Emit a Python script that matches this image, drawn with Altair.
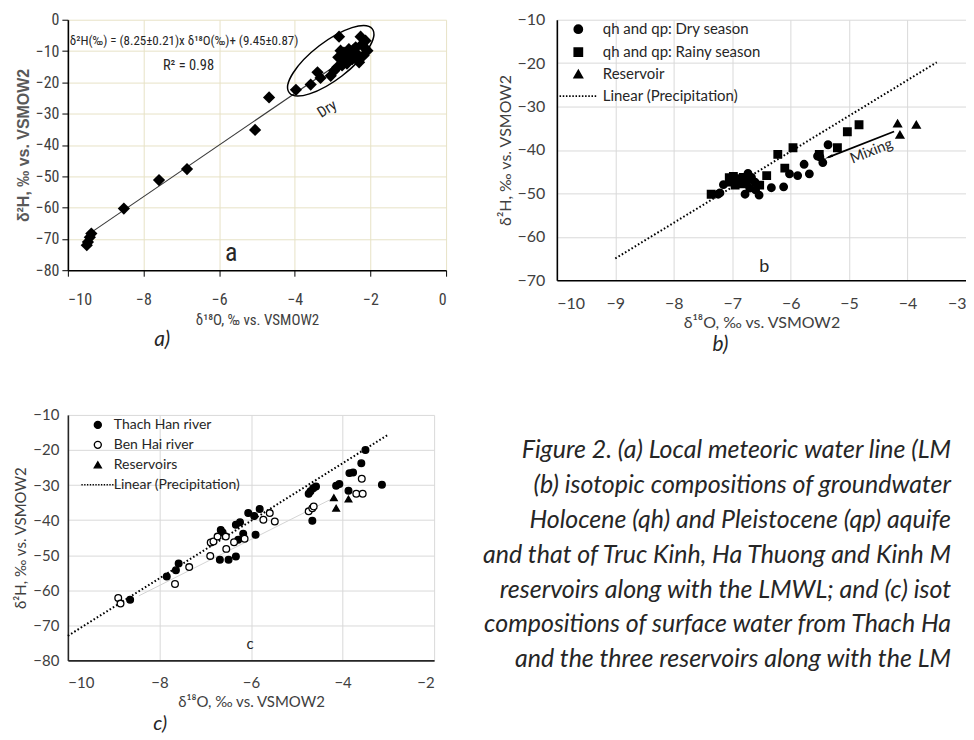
import math
import altair as alt
import pandas as pd

NARROW = "Roboto Condensed, Liberation Sans Narrow, Roboto, sans-serif"
CAL = "Lato, Carlito, Calibri, sans-serif"
TXT = "#404040"

# ---------------- panel a data ----------------
a_x = [-9.50, -9.47, -9.42, -9.38, -8.52, -7.59, -6.85, -5.05, -4.68,
       -3.97, -3.58, -3.40, -3.32, -3.05, -2.96, -2.88, -2.83, -2.79, -2.75,
       -2.70, -2.65, -2.60, -2.57, -2.52, -2.48, -2.43, -2.39, -2.35, -2.30,
       -2.26, -2.22, -2.18, -2.13, -2.08, -2.15, -2.70, -2.85, -2.62, -2.45]
a_y = [-72.0, -71.0, -69.5, -68.3, -60.3, -51.2, -47.7, -35.2, -24.8,
       -22.4, -20.7, -16.8, -18.6, -17.9, -16.3, -15.2, -5.4, -9.9, -14.6,
       -13.1, -11.0, -12.3, -9.4, -10.8, -12.6, -11.5, -8.8, -11.0, -13.6,
       -5.4, -7.8, -11.4, -6.7, -9.9, -9.0, -10.5, -12.0, -14.0, -9.6]
a_fit_x = [-9.43, -2.20]
a_fit_y = [-68.3, -8.7]
a_ellipse_x = [-3.05]
a_ellipse_y = [-13.1]

# ---------------- panel b data ----------------
b_series = ["qh and qp: Dry season", "qh and qp: Rainy season", "Reservoir",
            "Linear (Precipitation)"]
b_dry_x = [-7.24, -7.21, -7.15, -6.73, -6.67, -6.75, -6.61, -6.70, -6.78, -6.54,
           -6.60, -6.33, -6.12, -6.02, -5.88, -5.77, -5.68, -5.54, -5.45, -5.36, -5.50]
b_dry_y = [-50.2, -49.9, -48.0, -45.4, -46.3, -47.4, -47.4, -48.8, -50.2, -50.4,
           -49.2, -48.7, -48.5, -45.5, -45.9, -43.3, -45.5, -41.4, -42.9, -38.8, -41.6]
b_rainy_x = [-7.36, -7.05, -6.98, -6.90, -6.81, -6.95, -6.84, -7.02, -6.53, -6.41,
             -6.22, -6.10, -5.96, -5.51, -5.20, -5.03, -4.83]
b_rainy_y = [-50.2, -46.4, -46.1, -46.6, -46.3, -48.1, -47.8, -47.4, -48.1, -45.9,
             -41.0, -44.2, -39.5, -41.0, -39.5, -35.8, -34.2]
b_res_x = [-4.17, -4.13, -3.85]
b_res_y = [-33.9, -36.5, -34.2]
b_lmwl_x = [-9.0, -3.5]
b_lmwl_y = [-65.0, -19.8]
b_mix_x = [-4.23, -5.36]
b_mix_y = [-35.75, -41.7]

# ---------------- panel c data ----------------
c_series = ["Thach Han river", "Ben Hai river", "Reservoirs", "Linear (Precipitation)"]
c_th_x = [-3.50, -3.59, -3.85, -3.77, -3.14, -3.87, -4.14, -4.07, -4.74, -4.70,
          -4.64, -4.58, -4.66, -5.81, -6.06, -5.93, -5.90, -6.33, -6.24, -6.17,
          -6.28, -6.66, -6.62, -6.68, -6.49, -6.33, -7.58, -7.64, -7.84, -8.64]
c_th_y = [-20.0, -23.8, -26.6, -26.4, -29.9, -31.6, -30.2, -29.7, -32.5, -31.8,
          -30.9, -30.4, -40.2, -36.8, -38.0, -38.8, -44.2, -41.3, -40.6, -43.9,
          -45.6, -42.8, -43.5, -51.3, -51.3, -50.4, -52.4, -54.3, -56.1, -62.7]
c_bh_x = [-3.58, -3.70, -3.56, -4.74, -4.66, -4.63, -5.59, -5.73, -5.48, -6.88,
          -6.82, -6.73, -6.55, -6.54, -6.37, -6.14, -6.89, -7.35, -7.66, -8.90, -8.85]
c_bh_y = [-28.2, -32.5, -32.5, -37.5, -36.6, -36.1, -38.0, -39.9, -40.4, -46.4,
          -46.1, -44.7, -44.7, -48.2, -46.3, -45.3, -50.2, -53.4, -58.2, -62.2, -63.8]
c_res_x = [-4.19, -4.14, -3.87]
c_res_y = [-33.6, -36.6, -34.0]
c_lmwl_x = [-10.0, -3.0]
c_lmwl_y = [-73.0, -15.6]
c_trend_x = [-8.45, -4.2]
c_trend_y = [-61.6, -33.7]

# caption, as far as it is visible (the figure is cut at its right edge)
caption_lines = [
    "Figure 2. (a) Local meteoric water line (LM",
    "(b) isotopic compositions of groundwater",
    "Holocene (qh) and Pleistocene (qp) aquife",
    "and that of Truc Kinh, Ha Thuong and Kinh M",
    "reservoirs along with the LMWL; and (c) isot",
    "compositions of surface water from Thach Ha",
    "and the three reservoirs along with the LM",
]


# ---- symbol shapes (unit coordinates, scaled by the mark size) ----
def ellipse_path(ry=0.36, deg=-37.5, k=0.5523):
    t = math.radians(deg)
    c, s = math.cos(t), math.sin(t)
    ctrl = [(1, 0), (1, k * ry), (k, ry), (0, ry), (-k, ry), (-1, k * ry), (-1, 0),
            (-1, -k * ry), (-k, -ry), (0, -ry), (k, -ry), (1, -k * ry), (1, 0)]
    r = ["%.3f,%.3f" % (x * c - y * s, x * s + y * c) for x, y in ctrl]
    p = "M" + r[0]
    for i in range(1, 13, 3):
        p += "C" + " ".join(r[i:i + 3])
    return p + "Z"


ELLIPSE = ellipse_path()
DOTLINE = "".join("M%.2f,0h0.38" % (-4.7 + 0.8 * k) for k in range(12))

# ================= panel a =================
xa = alt.X("x:Q", scale=alt.Scale(domain=[-10, 0], nice=False),
           axis=alt.Axis(values=[-10, -8, -6, -4, -2, 0], grid=True, gridColor="#e7e2c6",
                         domainColor="black", domainWidth=1.6, tickColor="black", tickSize=6,
                         labelFont=NARROW, labelFontSize=16, labelColor=TXT, labelPadding=15,
                         title="δ¹⁸O, ‰ vs. VSMOW2", titleFont=NARROW, titleFontSize=15,
                         titleFontWeight="normal", titleColor=TXT, titlePadding=5))
ya = alt.Y("y:Q", scale=alt.Scale(domain=[-80, 0], nice=False),
           axis=alt.Axis(values=list(range(-80, 1, 10)), grid=True, gridColor="#e7e2c6",
                         domainColor="black", domainWidth=1.6, tickColor="black", tickSize=6,
                         labelFont=NARROW, labelFontSize=16, labelColor=TXT, labelPadding=3,
                         title="δ²H, ‰ vs. VSMOW2", titleFont="Liberation Sans, sans-serif",
                         titleFontSize=16, titleFontWeight="bold", titleColor="#595959",
                         titlePadding=4))

fit_a = alt.Chart(pd.DataFrame({"x": a_fit_x, "y": a_fit_y})).mark_line(
    color="#3a3a3a", strokeWidth=1.1).encode(x=xa, y=ya)
pts_a = alt.Chart(pd.DataFrame({"x": a_x, "y": a_y})).mark_point(
    shape="diamond", filled=True, color="black", size=150, opacity=1).encode(x=xa, y=ya)
ell_a = alt.Chart(pd.DataFrame({"x": a_ellipse_x, "y": a_ellipse_y})).mark_point(
    shape=ELLIPSE, filled=False, color="black", strokeWidth=1.5, size=11025,
    opacity=1).encode(x=xa, y=ya)
eq_a = alt.Chart(pd.DataFrame({"x": [-9.95], "y": [-6.7],
                               "t": ["δ²H(‰) = (8.25±0.21)x δ¹⁸O(‰)+ (9.45±0.87)"]})).mark_text(
    align="left", baseline="middle", font=NARROW, fontSize=13, color="#262626").encode(
    x=xa, y=ya, text="t:N")
r2_a = alt.Chart(pd.DataFrame({"x": [-6.81], "y": [-14.7], "t": ["R² = 0.98"]})).mark_text(
    align="center", baseline="middle", font=NARROW, fontSize=14.5, color="#262626").encode(
    x=xa, y=ya, text="t:N")
dry_a = alt.Chart(pd.DataFrame({"x": [-3.15], "y": [-28.4], "t": ["Dry"]})).mark_text(
    align="center", baseline="middle", font=NARROW, fontSize=15, color="#262626",
    angle=328).encode(x=xa, y=ya, text="t:N")
lab_a = alt.Chart(pd.DataFrame({"x": [-5.68], "y": [-74.4], "t": ["a"]})).mark_text(
    align="center", baseline="middle", font=NARROW, fontSize=26, color="#262626").encode(
    x=xa, y=ya, text="t:N")

panel_a = alt.layer(fit_a, pts_a, ell_a, eq_a, r2_a, dry_a, lab_a).properties(
    width=379, height=251,
    title=alt.TitleParams("a)", orient="bottom", anchor="middle", dx=-95, offset=2,
                          font=CAL, fontSize=21, fontStyle="italic", fontWeight="normal",
                          color="#262626"))

# ================= panel b =================
xb = alt.X("x:Q", scale=alt.Scale(domain=[-10, -3], nice=False),
           axis=alt.Axis(values=list(range(-10, -2)), grid=True, gridColor="#d9d9d9",
                         domainColor="black", domainWidth=1.6, ticks=False,
                         labelFont=CAL, labelFontSize=16, labelColor=TXT, labelPadding=15,
                         title="δ¹⁸O, ‰ vs. VSMOW2", titleFont=CAL, titleFontSize=16,
                         titleFontWeight="normal", titleColor=TXT, titlePadding=3))
yb = alt.Y("y:Q", scale=alt.Scale(domain=[-70, -10], nice=False),
           axis=alt.Axis(values=list(range(-70, -9, 10)), grid=True, gridColor="#d9d9d9",
                         domainColor="black", domainWidth=1.6, ticks=False,
                         labelFont=CAL, labelFontSize=16, labelColor=TXT, labelPadding=12,
                         title="δ²H, ‰ vs. VSMOW2", titleFont=CAL, titleFontSize=16,
                         titleFontWeight="normal", titleColor=TXT, titlePadding=4))

dfb = pd.DataFrame({
    "x": b_dry_x + b_rainy_x + b_res_x,
    "y": b_dry_y + b_rainy_y + b_res_y,
    "sb": [b_series[0]] * len(b_dry_x) + [b_series[1]] * len(b_rainy_x) + [b_series[2]] * len(b_res_x),
})
leg_b_kw = dict(title=None, orient="none", legendX=14, legendY=2, symbolSize=64,
                labelFont=CAL, labelFontSize=15, labelColor="#262626", labelOffset=17,
                rowPadding=6, symbolStrokeWidth=1.8, symbolOpacity=1)
lmwl_b = alt.Chart(pd.DataFrame({"x": b_lmwl_x, "y": b_lmwl_y})).mark_line(
    color="black", strokeWidth=2, strokeDash=[1.6, 2.2]).encode(x=xb, y=yb)
pts_b = alt.Chart(dfb).mark_point(filled=True, strokeWidth=1.8, size=50, opacity=1).encode(
    x=xb, y=yb,
    shape=alt.Shape("sb:N", scale=alt.Scale(domain=b_series,
                                            range=["circle", "square", "triangle-up", DOTLINE]),
                    legend=alt.Legend(**leg_b_kw)),
    fill=alt.Fill("sb:N", scale=alt.Scale(domain=b_series,
                                          range=["black", "black", "black", "transparent"]),
                  legend=alt.Legend(**leg_b_kw)),
    stroke=alt.Stroke("sb:N", scale=alt.Scale(domain=b_series,
                                              range=["black", "black", "black", "black"]),
                      legend=alt.Legend(**leg_b_kw)))
mix_b = alt.Chart(pd.DataFrame({"x": b_mix_x, "y": b_mix_y})).mark_line(
    color="black", strokeWidth=1.8).encode(x=xb, y=yb)
head_b = alt.Chart(pd.DataFrame({"x": [-5.33], "y": [-41.55]})).mark_point(
    shape="wedge", filled=True, color="black", size=110, angle=248.5, opacity=1).encode(x=xb, y=yb)
mixtxt_b = alt.Chart(pd.DataFrame({"x": [-4.62], "y": [-40.2], "t": ["Mixing"]})).mark_text(
    align="center", baseline="middle", font=CAL, fontSize=15, color="#262626",
    angle=338.5).encode(x=xb, y=yb, text="t:N")
lab_b = alt.Chart(pd.DataFrame({"x": [-6.45], "y": [-67.0], "t": ["b"]})).mark_text(
    align="center", baseline="middle", font=CAL, fontSize=18, color="#262626").encode(
    x=xb, y=yb, text="t:N")

panel_b = alt.layer(lmwl_b, pts_b, mix_b, head_b, mixtxt_b, lab_b).properties(
    width=410, height=261,
    title=alt.TitleParams("b)", orient="bottom", anchor="middle", dx=-41, offset=4,
                          font=CAL, fontSize=21, fontStyle="italic", fontWeight="normal",
                          color="#262626"))

# ================= panel c =================
xc = alt.X("x:Q", scale=alt.Scale(domain=[-10, -2], nice=False),
           axis=alt.Axis(values=[-10, -8, -6, -4, -2], grid=True, gridColor="#d9d9d9",
                         domainColor="#262626", domainWidth=1.6, ticks=False,
                         labelFont=CAL, labelFontSize=15, labelColor=TXT, labelPadding=15,
                         title="δ¹⁸O, ‰ vs. VSMOW2", titleFont=CAL, titleFontSize=15,
                         titleFontWeight="normal", titleColor=TXT, titlePadding=4))
yc = alt.Y("y:Q", scale=alt.Scale(domain=[-80, -10], nice=False),
           axis=alt.Axis(values=list(range(-80, -9, 10)), grid=True, gridColor="#d9d9d9",
                         domainColor="#262626", domainWidth=1.6, ticks=False,
                         labelFont=CAL, labelFontSize=15, labelColor=TXT, labelPadding=9,
                         title="δ²H, ‰ vs. VSMOW2", titleFont=CAL, titleFontSize=15,
                         titleFontWeight="normal", titleColor=TXT, titlePadding=4))

dfc = pd.DataFrame({
    "x": c_th_x + c_bh_x + c_res_x,
    "y": c_th_y + c_bh_y + c_res_y,
    "sc": [c_series[0]] * len(c_th_x) + [c_series[1]] * len(c_bh_x) + [c_series[2]] * len(c_res_x),
})
leg_c_kw = dict(title=None, orient="none", legendX=23, legendY=3, symbolSize=49,
                labelFont=CAL, labelFontSize=14, labelColor="#262626", labelOffset=9,
                rowPadding=6, symbolStrokeWidth=1.4, symbolOpacity=1)
trend_c = alt.Chart(pd.DataFrame({"x": c_trend_x, "y": c_trend_y})).mark_line(
    color="#d4d4d4", strokeWidth=1).encode(x=xc, y=yc)
lmwl_c = alt.Chart(pd.DataFrame({"x": c_lmwl_x, "y": c_lmwl_y})).mark_line(
    color="black", strokeWidth=2, strokeDash=[1.6, 2.2]).encode(x=xc, y=yc)
pts_c = alt.Chart(dfc).mark_point(filled=True, strokeWidth=1.3, size=45, opacity=1).encode(
    x=xc, y=yc,
    shape=alt.Shape("sc:N", scale=alt.Scale(domain=c_series,
                                            range=["circle", "circle", "triangle-up", DOTLINE]),
                    legend=alt.Legend(**leg_c_kw)),
    fill=alt.Fill("sc:N", scale=alt.Scale(domain=c_series,
                                          range=["black", "white", "black", "transparent"]),
                  legend=alt.Legend(**leg_c_kw)),
    stroke=alt.Stroke("sc:N", scale=alt.Scale(domain=c_series,
                                              range=["black", "black", "black", "black"]),
                      legend=alt.Legend(**leg_c_kw)))
lab_c = alt.Chart(pd.DataFrame({"x": [-6.02], "y": [-75.2], "t": ["c"]})).mark_text(
    align="center", baseline="middle", font=CAL, fontSize=15, color="#262626").encode(
    x=xc, y=yc, text="t:N")
# invisible layout guide that keeps panel c as far from the page edge as in the figure
guide_c = alt.Chart(pd.DataFrame({"g": [0]})).mark_rule(opacity=0, strokeWidth=0.1).encode(
    x=alt.value(-60), y=alt.value(0), y2=alt.value(1))

panel_c = alt.layer(trend_c, lmwl_c, pts_c, lab_c, guide_c).properties(
    width=367, height=246,
    title=alt.TitleParams("c)", orient="bottom", anchor="middle", dx=-91, offset=5,
                          font=CAL, fontSize=20, fontStyle="italic", fontWeight="normal",
                          color="#262626"))

# ================= caption =================
CAP_W = 508
cap = pd.DataFrame({"i": list(range(len(caption_lines))), "t": caption_lines})
caption = alt.Chart(cap).mark_text(
    font=CAL, fontSize=25, fontStyle="italic", color="#262626",
    align="right", baseline="middle", dx=CAP_W / 2).encode(
    y=alt.Y("i:O", axis=None, scale=alt.Scale(padding=1.15)),
    text="t:N").properties(width=CAP_W, height=280)


def indep(ch):
    return ch.resolve_scale(shape="independent", fill="independent",
                            stroke="independent").resolve_legend(
        shape="independent", fill="independent", stroke="independent")


row1 = indep(alt.hconcat(panel_a, panel_b, spacing=50))
row2 = indep(alt.hconcat(panel_c, caption, spacing=10))

chart = indep(alt.vconcat(row1, row2, spacing=53)).properties(
    padding={"left": 0, "top": 3, "right": 0, "bottom": 0}, background="white"
).configure_view(strokeWidth=0, stroke="transparent")

chart.save("out.html", embed_options={"renderer": "svg", "actions": False})
